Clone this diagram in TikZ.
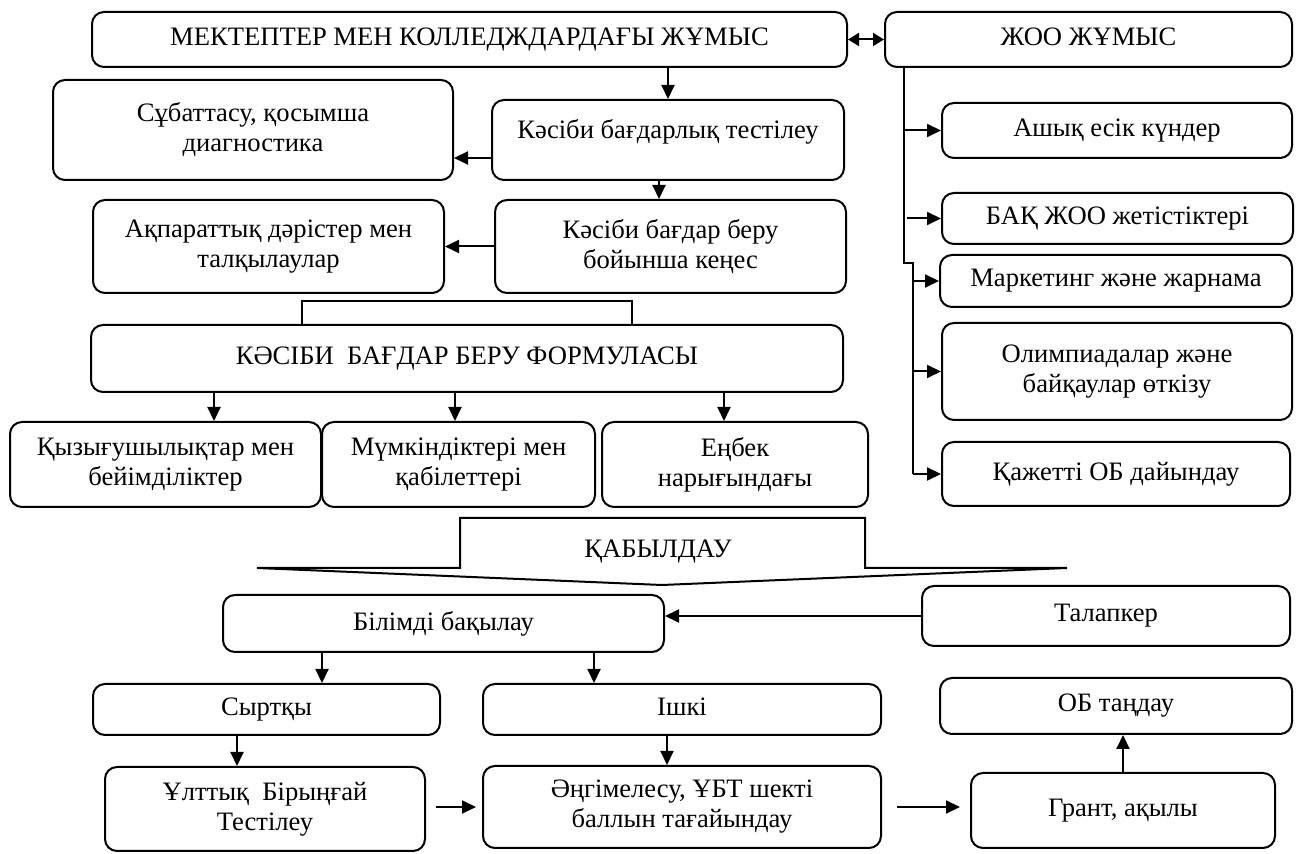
\documentclass[tikz,border=0pt]{standalone}
\usepackage{fontspec}
\setmainfont{Liberation Serif}
\usetikzlibrary{arrows.meta}

\newcommand\boxstrut{\rule[-3pt]{0pt}{11.8pt}}

\tikzset{
  blk/.style={draw, line width=1pt, rounded corners=6pt, align=center,
    inner sep=0pt, font=\fontsize{13.3}{15}\selectfont,
    execute at begin node=\boxstrut, execute at end node=\boxstrut},
  arr/.style={line width=1pt, -{Triangle[length=7pt,width=6.5pt]}},
  both/.style={line width=1pt, {Triangle[length=5.5pt,width=6.5pt]}-{Triangle[length=5.5pt,width=6.5pt]}},
  wire/.style={line width=1pt}
}

\begin{document}
\begin{tikzpicture}[x=0.5pt, y=-0.5pt]
\useasboundingbox (0,0) rectangle (1296,854);

% Schools and colleges
\node[blk, minimum width=377.5pt, minimum height=27.5pt] (school) at (469.5,39.5) {МЕКТЕПТЕР МЕН КОЛЛЕДЖДАРДАҒЫ ЖҰМЫС};
\node[blk, minimum width=203.5pt, minimum height=27.5pt] (zoo) at (1088.5,39.5) {ЖОО ЖҰМЫС};
\node[blk, minimum width=176pt, minimum height=40pt] (test) at (668,140) {Кәсіби бағдарлық тестілеу\\[-7pt]\mbox{}};
\node[blk, minimum width=200pt, minimum height=50pt] (sub) at (253,130) {Сұбаттасу, қосымша\\диагностика};
\node[blk, minimum width=175.5pt, minimum height=46.5pt] (advice) at (670.5,246.5) {Кәсіби бағдар беру\\бойынша кеңес};
\node[blk, minimum width=175.5pt, minimum height=46.5pt] (info) at (268.5,246.5) {Ақпараттық дәрістер мен\\талқылаулар};

% Formula
\node[blk, minimum width=376pt, minimum height=33.5pt] (formula) at (467,358.5) {КӘСІБИ\ \ БАҒДАР БЕРУ ФОРМУЛАСЫ};
\node[blk, minimum width=155.5pt, minimum height=42.5pt] (interest) at (165.5,464.5) {Қызығушылықтар мен\\бейімділіктер};
\node[blk, minimum width=136.5pt, minimum height=42.5pt] (ability) at (458.5,464.5) {Мүмкіндіктері мен\\қабілеттері};
\node[blk, minimum width=133pt, minimum height=42.5pt] (labor) at (735,464.5) {Еңбек\\нарығындағы};

% University column
\node[blk, minimum width=175pt, minimum height=27.5pt] (open) at (1117,130.5) {Ашық есік күндер};
\node[blk, minimum width=175.5pt, minimum height=25.5pt] (media) at (1117.5,218.5) {БАҚ ЖОО жетістіктері};
\node[blk, minimum width=176pt, minimum height=26pt] (market) at (1116,281) {Маркетинг және жарнама};
\node[blk, minimum width=175pt, minimum height=48.5pt] (olymp) at (1117,371.5) {Олимпиадалар және\\байқаулар өткізу};
\node[blk, minimum width=174pt, minimum height=32pt] (need) at (1116,474) {Қажетті ОБ дайындау};

% Admission
\draw[wire] (460,518) -- (865,518) -- (865,568) -- (1067,568) -- (662,585) -- (257,568) -- (460,568) -- cycle;
\node[font=\fontsize{13.3}{15}\selectfont] (qabyl) at (658,552) {ҚАБЫЛДАУ};
\node[blk, minimum width=220.5pt, minimum height=28.5pt] (bilim) at (443.5,623.5) {Білімді бақылау};
\node[blk, minimum width=184pt, minimum height=30pt] (talap) at (1106,616) {Талапкер};
\node[blk, minimum width=173.5pt, minimum height=25.5pt] (out) at (266.5,709.5) {Сыртқы};
\node[blk, minimum width=199pt, minimum height=25.5pt] (inner) at (682,709.5) {Ішкі};
\node[blk, minimum width=176pt, minimum height=28pt] (choose) at (1116,706) {ОБ таңдау};
\node[blk, minimum width=160pt, minimum height=42pt] (ent) at (265,809) {Ұлттық\ \ Бірыңғай\\Тестілеу};
\node[blk, minimum width=199pt, minimum height=41pt] (talk) at (682,807) {Әңгімелесу, ҰБТ шекті\\баллын тағайындау};
\node[blk, minimum width=152pt, minimum height=37.5pt] (grant) at (1123,810.5) {Грант, ақылы};

% Arrows, upper part
\draw[both] (school.east) -- (zoo.west);
\draw[arr] (school.south -| test.north) -- (test.north);
\draw[arr] ([yshift=-9pt]test.west) -- ([yshift=-9pt]test.west -| sub.east);
\draw[arr] ([xshift=-4.5pt]test.south) -- ([xshift=-4.5pt]test.south |- advice.north);
\draw[arr] (advice.west) -- (advice.west -| info.east);
\draw[wire] ([xshift=-82.5pt]formula.north) -- ++(0,11.5pt) -| ([xshift=82.5pt]formula.north);
\draw[arr] ([xshift=-126.5pt]formula.south) -- ([xshift=-126.5pt]formula.south |- interest.north);
\draw[arr] ([xshift=-6pt]formula.south) -- ([xshift=-6pt]formula.south |- ability.north);
\draw[arr] ([xshift=128.5pt]formula.south) -- ([xshift=128.5pt]formula.south |- labor.north);

% Spine of the university column
\coordinate (sp) at ([xshift=10pt]zoo.south west);
\draw[wire] (sp) -- ++(0,-97.5pt) -- ++(4.5pt,0) coordinate (sp2) -- (sp2 |- need.west);
\draw[arr] (sp |- open.west) -- (open.west);
\draw[arr] ([xshift=1.5pt]sp |- media.west) -- (media.west);
\draw[arr] (sp2 |- market.west) -- (market.west);
\draw[arr] (sp2 |- olymp.west) -- (olymp.west);
\draw[arr] (sp2 |- need.west) -- (need.west);

% Arrows, lower part
\draw[arr] (talap.west) -- (talap.west -| bilim.east);
\draw[arr] ([xshift=-60.75pt]bilim.south) -- ([xshift=-60.75pt]bilim.south |- out.north);
\draw[arr] ([xshift=75.25pt]bilim.south) -- ([xshift=75.25pt]bilim.south |- inner.north);
\draw[arr] ([xshift=-14.75pt]out.south) -- ([xshift=-14.75pt]out.south |- ent.north);
\draw[arr] ([xshift=-7.5pt]inner.south) -- ([xshift=-7.5pt]inner.south |- talk.north);
\draw[arr, shorten <=5pt, shorten >=3pt] (talk.west -| ent.east) -- (talk.west);
\draw[arr, shorten <=7.5pt, shorten >=5pt] (talk.east) -- (talk.east -| grant.west);
\draw[arr] (grant.north) -- (grant.north |- choose.south);

\end{tikzpicture}
\end{document}
